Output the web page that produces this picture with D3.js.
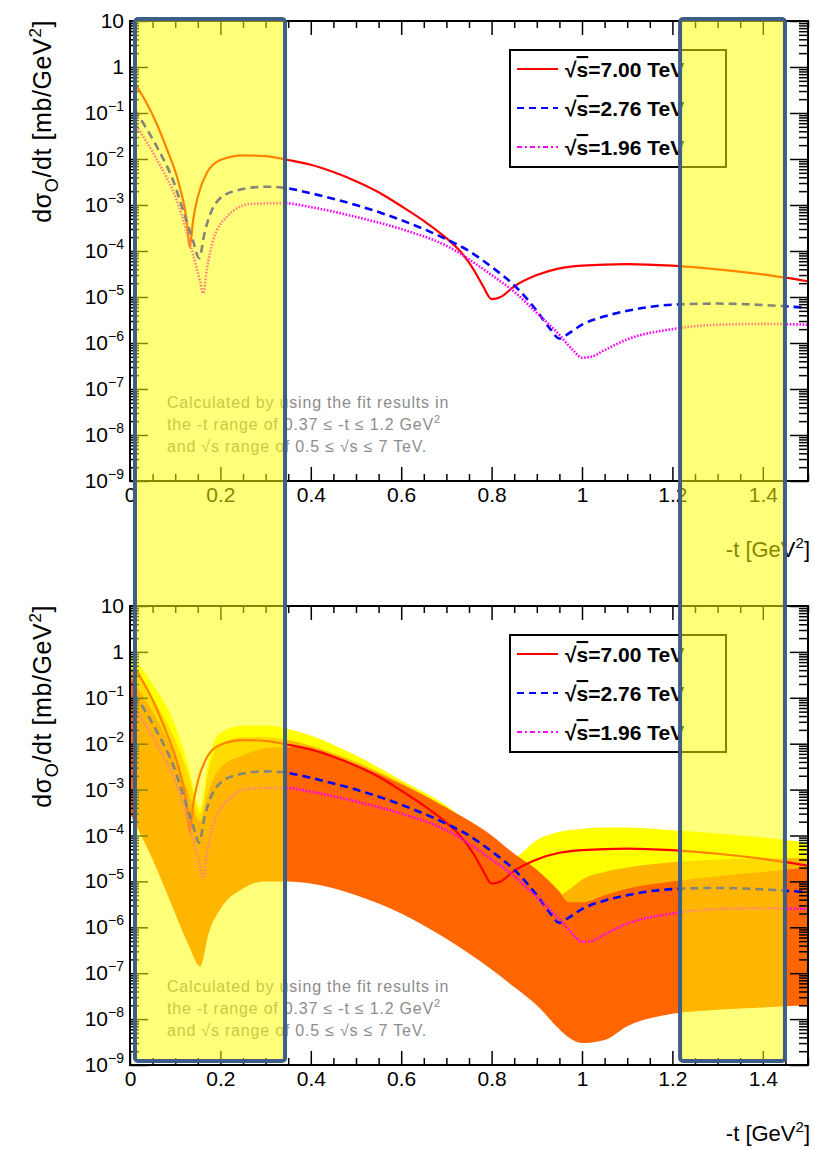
<!DOCTYPE html>
<html>
<head>
<meta charset="utf-8">
<script src="https://cdn.jsdelivr.net/npm/d3@7"></script>
<style>
body { margin: 0; background: #fff; }
text { font-family: "Liberation Sans", Arial, sans-serif; }
</style>
</head>
<body>
<div id="chart"></div>
<script>
// curves (-t in GeV^2, dsigma/dt in mb/GeV^2)
var t700 = [0.01,0.044,0.08,0.11,0.125,0.132,0.14,0.15,0.17,0.2,0.25,0.3,0.35,0.4,0.45,0.5,0.55,0.6,0.65,0.7,0.73,0.76,0.78,0.8,0.82,0.85,0.9,0.95,1.0,1.1,1.2,1.3,1.4,1.5];
var v700 = [0.45,0.12,0.018,2.5e-3,5e-4,1.2e-4,5e-4,1.5e-3,5e-3,9.5e-3,1.2e-2,1.15e-2,9.5e-3,7.5e-3,5.2e-3,3.3e-3,1.9e-3,9.5e-4,4.5e-4,1.9e-4,1e-4,4e-5,1.8e-5,9e-6,1e-5,1.7e-5,3e-5,4.2e-5,4.8e-5,5.2e-5,4.8e-5,4e-5,3.1e-5,2.2e-5];

var t276 = [0.01,0.06,0.095,0.125,0.14,0.153,0.165,0.19,0.23,0.3,0.35,0.4,0.5,0.6,0.7,0.75,0.8,0.85,0.9,0.93,0.95,0.97,1.0,1.05,1.1,1.2,1.3,1.4,1.5];
var v276 = [0.12,1.8e-2,3.5e-3,4.5e-4,1.6e-4,7e-5,2.5e-4,1.1e-3,2e-3,2.5e-3,2.3e-3,1.8e-3,1e-3,4.7e-4,1.8e-4,1e-4,4.5e-5,1.8e-5,5e-6,2e-6,1.25e-6,1.6e-6,2.5e-6,3.8e-6,5e-6,6.8e-6,7.2e-6,6.7e-6,5.8e-6];

var t196 = [0.01,0.06,0.103,0.14,0.155,0.162,0.17,0.184,0.214,0.265,0.34,0.4,0.5,0.6,0.7,0.8,0.85,0.9,0.95,0.98,1.0,1.02,1.05,1.1,1.2,1.3,1.4,1.5];
var v196 = [0.06,9.5e-3,1.3e-3,8e-5,2.2e-5,1.2e-5,4e-5,1.7e-4,5.5e-4,1.05e-3,1.1e-3,9e-4,5.5e-4,3e-4,1.3e-4,3e-5,1.3e-5,4.5e-6,1.5e-6,7e-7,4.8e-7,5e-7,7e-7,1.2e-6,2e-6,2.5e-6,2.6e-6,2.5e-6];

// uncertainty bands of the lower panel
var tBand = [0,0.05,0.1,0.13,0.155,0.175,0.2,0.25,0.3,0.35,0.4,0.5,0.6,0.7,0.8,0.85,0.9,0.95,0.97,1.0,1.05,1.1,1.2,1.3,1.4,1.5];
var hi700 = [0.9,0.2,0.025,3e-3,4e-4,5e-3,1.7e-2,2.5e-2,2.5e-2,2.1e-2,1.5e-2,5.5e-3,1.6e-3,4.5e-4,7e-5,3.5e-5,8e-5,1.2e-4,1.3e-4,1.4e-4,1.5e-4,1.5e-4,1.3e-4,1.1e-4,9e-5,7e-5];
var lo700 = [2e-3,2e-4,2e-5,5e-6,2e-6,4e-6,2e-5,5e-5,6e-5,6e-5,5e-5,3e-5,1.2e-5,4e-6,1e-6,5e-7,2e-7,1e-7,8e-8,7e-8,8e-8,1e-7,2e-7,2.5e-7,2.8e-7,3e-7];
var hi276 = [0.5,0.1,0.012,2e-3,3e-4,3e-3,1e-2,1.4e-2,1.4e-2,1.2e-2,9e-3,4e-3,1.4e-3,4e-4,8e-5,3e-5,1.2e-5,5e-6,6.5e-6,1.1e-5,1.6e-5,2e-5,2.6e-5,3e-5,3.2e-5,3.2e-5];
var lo276 = [1e-3,1e-4,1e-5,3e-6,1e-6,2e-6,1e-5,3e-5,4e-5,4e-5,4e-5,2.5e-5,1e-5,3e-6,6e-7,2.5e-7,1e-7,4e-8,3e-8,2.5e-8,3e-8,5e-8,1e-7,1.2e-7,1.3e-7,1.4e-7];
var hi196 = [0.3,0.05,5e-3,8e-4,2e-4,1e-3,3e-3,5.5e-3,8e-3,8.5e-3,7.5e-3,3.5e-3,1.3e-3,4e-4,1e-4,4e-5,1.8e-5,6e-6,3.5e-6,3.5e-6,5e-6,7e-6,1e-5,1.3e-5,1.6e-5,2e-5];
var lo196 = [3e-4,3e-5,2e-6,4e-7,1.4e-7,8e-7,2.5e-6,7e-6,1e-5,1e-5,9e-6,5e-6,2e-6,5.6e-7,1.2e-7,5e-8,2e-8,6e-9,4e-9,3e-9,3.5e-9,7e-9,1.3e-8,1.6e-8,1.8e-8,2e-8];

var legendLabels = ["=7.00 TeV", "=2.76 TeV", "=1.96 TeV"];
var xMajor = [0,0.2,0.4,0.6,0.8,1.0,1.2,1.4];
var yExp = [1,0,-1,-2,-3,-4,-5,-6,-7,-8,-9];
var noteLines = ["Calculated by using the fit results in", "the -t range of 0.37 \u2264 -t \u2264 1.2 GeV", "and \u221As range of 0.5 \u2264 \u221As \u2264 7 TeV."];
// highlighted -t intervals
var boxes = [[0.011, 0.343], [1.217, 1.449]];

var series = [
  {t: t700, v: v700, color: "#ff0000", dash: null, width: 2.2, legDash: null},
  {t: t276, v: v276, color: "#0000ff", dash: "8,5", width: 2.6, legDash: "7,5"},
  {t: t196, v: v196, color: "#ff00ff", dash: "1.6,1.6", width: 2.6, legDash: "5,3,2,3"}
];
var bands = [
  {hi: hi700, lo: lo700, color: "#ffff00"},
  {hi: hi276, lo: lo276, color: "#ffb400"},
  {hi: hi196, lo: lo196, color: "#ff6600"}
];

var W = 815, H = 1150;
var left = 130, right = 808;
var svg = d3.select("#chart").append("svg").attr("width", W).attr("height", H);

var x = d3.scaleLinear().domain([0, 1.5]).range([left, right]);

var xMinor = d3.range(0, 1.5001, 0.05).filter(function(d) { return Math.abs(d / 0.2 - Math.round(d / 0.2)) > 1e-6; });
var yMinor = [];
for (var e = -9; e < 1; e++) for (var m = 2; m <= 9; m++) yMinor.push(m * Math.pow(10, e));
var yMajor = yExp.map(function(d) { return Math.pow(10, d); });

function panel(id, top, bottom, withBands) {
  var y = d3.scaleLog().domain([1e-9, 10]).range([bottom, top]);
  var g = svg.append("g");

  g.append("clipPath").attr("id", "clip" + id)
    .append("rect").attr("x", left).attr("y", top).attr("width", right - left).attr("height", bottom - top);
  var plot = g.append("g").attr("clip-path", "url(#clip" + id + ")");

  if (withBands) {
    bands.forEach(function(b) {
      var pts = tBand.map(function(t, i) { return [t, b.lo[i], b.hi[i]]; });
      plot.append("path").datum(pts)
        .attr("fill", b.color)
        .attr("d", d3.area()
          .x(function(d) { return x(d[0]); })
          .y0(function(d) { return y(d[1]); })
          .y1(function(d) { return y(d[2]); })
          .curve(d3.curveMonotoneX));
    });
  }

  series.forEach(function(s) {
    var pts = s.t.map(function(t, i) { return [t, s.v[i]]; });
    plot.append("path").datum(pts)
      .attr("fill", "none")
      .attr("stroke", s.color)
      .attr("stroke-width", s.width)
      .attr("stroke-dasharray", s.dash)
      .attr("d", d3.line()
        .x(function(d) { return x(d[0]); })
        .y(function(d) { return y(d[1]); })
        .curve(d3.curveMonotoneX));
  });

  // axes, ROOT style: ticks on all four sides pointing in
  function ax(a, tr) {
    var gg = g.append("g").attr("transform", tr).call(a);
    gg.select(".domain").remove();
    gg.selectAll("line").attr("stroke", "#000").attr("stroke-width", 1.5);
    return gg;
  }
  ax(d3.axisBottom(x).tickValues(xMinor).tickSize(-7).tickFormat(""), "translate(0," + bottom + ")");
  var xb = ax(d3.axisBottom(x).tickValues(xMajor).tickSize(-14).tickPadding(6)
      .tickFormat(function(d) { return d === 0 ? "0" : d === 1 ? "1" : d3.format(".1f")(d); }),
      "translate(0," + bottom + ")");
  xb.selectAll("text").attr("font-size", 21).attr("fill", "#000")
    .attr("font-family", "'Liberation Sans', Arial, sans-serif");
  ax(d3.axisTop(x).tickValues(xMinor).tickSize(-7).tickFormat(""), "translate(0," + top + ")");
  ax(d3.axisTop(x).tickValues(xMajor).tickSize(-14).tickFormat(""), "translate(0," + top + ")");
  ax(d3.axisLeft(y).tickValues(yMinor).tickSize(-9).tickFormat(""), "translate(" + left + ",0)");
  ax(d3.axisLeft(y).tickValues(yMajor).tickSize(-18).tickFormat(""), "translate(" + left + ",0)");
  ax(d3.axisRight(y).tickValues(yMinor).tickSize(-9).tickFormat(""), "translate(" + right + ",0)");
  ax(d3.axisRight(y).tickValues(yMajor).tickSize(-18).tickFormat(""), "translate(" + right + ",0)");

  g.append("rect").attr("x", left).attr("y", top).attr("width", right - left).attr("height", bottom - top)
    .attr("fill", "none").attr("stroke", "#000").attr("stroke-width", 2);

  // y tick labels 10^n
  yExp.forEach(function(n) {
    var tx = g.append("text").attr("x", left - 6).attr("y", y(Math.pow(10, n)) + 7)
      .attr("text-anchor", "end").attr("font-size", 21).attr("fill", "#000");
    if (n === 0) tx.text("1");
    else if (n === 1) tx.text("10");
    else {
      tx.append("tspan").text("10");
      tx.append("tspan").attr("font-size", 14).attr("dy", -9).text("\u2212" + (-n));
    }
  });

  // axis titles
  var yt = g.append("text").attr("transform", "translate(51," + (top - 1) + ") rotate(-90)")
    .attr("text-anchor", "end").attr("font-size", 25).attr("letter-spacing", 0.6).attr("fill", "#000");
  yt.append("tspan").text("d\u03C3");
  yt.append("tspan").attr("font-size", 18).attr("dy", 7).text("O");
  yt.append("tspan").attr("dy", -7).text("/dt [mb/GeV");
  yt.append("tspan").attr("font-size", 17).attr("dy", -10).text("2");
  yt.append("tspan").attr("dy", 10).text("]");

  var xt = g.append("text").attr("x", right + 2).attr("y", bottom + 76)
    .attr("text-anchor", "end").attr("font-size", 22).attr("fill", "#000");
  xt.append("tspan").text("-t [GeV");
  xt.append("tspan").attr("font-size", 15).attr("dy", -9).text("2");
  xt.append("tspan").attr("dy", 9).text("]");

  // legend
  var lx = 510, ly = top + 29;
  g.append("rect").attr("x", lx).attr("y", ly).attr("width", 216).attr("height", 117)
    .attr("fill", "#fff").attr("stroke", "#000").attr("stroke-width", 2);
  series.forEach(function(s, i) {
    var cy = ly + 19 + i * 39;
    g.append("line").attr("x1", lx + 7).attr("x2", lx + 48).attr("y1", cy).attr("y2", cy)
      .attr("stroke", s.color).attr("stroke-width", 2.2).attr("stroke-dasharray", s.legDash);
    var lt = g.append("text").attr("x", lx + 55).attr("y", cy + 8)
      .attr("font-size", 21).attr("font-weight", "bold").attr("fill", "#000");
    lt.append("tspan").text("\u221A");
    lt.append("tspan").style("text-decoration", "overline").text("s");
    lt.append("tspan").text(legendLabels[i]);
  });

  // note
  noteLines.forEach(function(s, i) {
    var nt = g.append("text").attr("x", 167).attr("y", bottom - 73 + i * 22)
      .attr("font-size", 16).attr("letter-spacing", 0.8).attr("fill", "#8c8c8c");
    nt.append("tspan").text(s);
    if (i === 1) nt.append("tspan").attr("font-size", 11).attr("dy", -7).text("2");
  });
}

panel(1, 21, 481, false);
panel(2, 606, 1065, true);

// highlight boxes laid over both panels
svg.selectAll("rect.hl").data(boxes).enter().append("rect")
  .attr("class", "hl")
  .attr("x", function(d) { return x(d[0]); })
  .attr("width", function(d) { return x(d[1]) - x(d[0]); })
  .attr("y", 19).attr("height", 1042).attr("rx", 3)
  .attr("fill", "#ffff00").attr("fill-opacity", 0.52)
  .attr("stroke", "#3e5e88").attr("stroke-width", 4);
</script>
</body>
</html>
